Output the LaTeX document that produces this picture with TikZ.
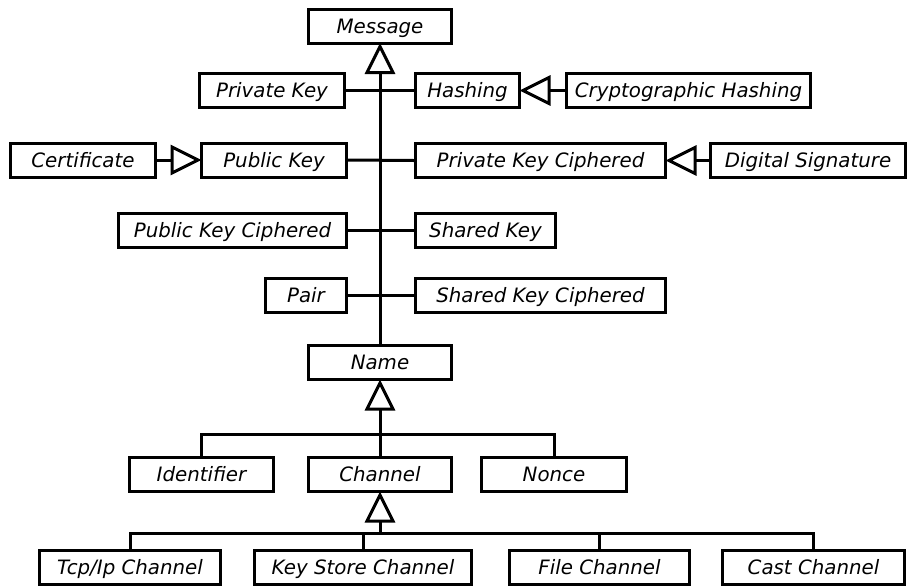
\documentclass[tikz,border=0pt]{standalone}
\usepackage{fontspec}
\setmainfont{DejaVu Sans}
\usetikzlibrary{arrows.meta}
\begin{document}
\begin{tikzpicture}[x=1pt,y=-1pt, line width=3pt,
  cls/.style={draw, rectangle, minimum height=34pt, inner sep=0pt,
    text height=14.4pt, text depth=0pt,
    font=\fontsize{19.8}{23}\selectfont\itshape},
  gen/.style={-{Triangle[open,length=31pt,width=30pt]}, shorten >=-1.5pt}]
\useasboundingbox (0,0) rectangle (912,587);
% nodes
\node[cls, minimum width=143pt] (msg) at (380,26) {Message};
\node[cls, minimum width=145pt] (pk) at (272,90.5) {Private Key};
\node[cls, minimum width=104pt] (hash) at (467.5,90.5) {Hashing};
\node[cls, minimum width=244pt] (chash) at (688.5,90.5) {Cryptographic Hashing};
\node[cls, minimum width=145pt] (cert) at (83,160) {Certificate};
\node[cls, minimum width=145pt] (pub) at (274,160) {Public Key};
\node[cls, minimum width=250pt] (pkc) at (540.5,160.5) {Private Key Ciphered};
\node[cls, minimum width=195pt] (dsig) at (808,160.5) {Digital Signature};
\node[cls, minimum width=228pt] (pubc) at (232.5,230.5) {Public Key Ciphered};
\node[cls, minimum width=140pt] (sk) at (485.5,230.5) {Shared Key};
\node[cls, minimum width=81pt] (pair) at (306,295) {Pair};
\node[cls, minimum width=250pt] (skc) at (540.5,295) {Shared Key Ciphered};
\node[cls, minimum width=143pt] (name) at (380,362.5) {Name};
\node[cls, minimum width=144pt] (id) at (201.5,474.5) {Identifier};
\node[cls, minimum width=143pt] (chan) at (380,474.5) {Channel};
\node[cls, minimum width=145pt] (nonce) at (554,474.5) {Nonce};
\node[cls, minimum width=181pt] (tcp) at (130,567) {Tcp/Ip Channel};
\node[cls, minimum width=217pt] (ks) at (363,567) {Key Store Channel};
\node[cls, minimum width=180pt] (file) at (599.5,567) {File Channel};
\node[cls, minimum width=182pt] (cast) at (813.5,567) {Cast Channel};
% main hierarchy
\draw[gen] (name.north) -- (msg.south);
\draw (pk.east) -- (hash.west);
\draw (pub.east) -- (pkc.west);
\draw (pubc.east) -- (sk.west);
\draw (pair.east) -- (skc.west);
% side generalisations
\draw[gen] (chash.west) -- (hash.east);
\draw[gen] (cert.east) -- (pub.west);
\draw[gen] (dsig.west) -- (pkc.east);
% Name subclasses
\coordinate (b1) at (380,434);
\draw[gen] (b1) -- (name.south);
\draw (id.north) |- (b1) -| (nonce.north);
\draw (chan.north) -- (b1);
% Channel subclasses
\coordinate (b2) at (380,533);
\draw[gen] (b2) -- (chan.south);
\draw (tcp.north) |- (b2) -| (cast.north);
\draw (ks.north) -- (ks.north |- b2);
\draw (file.north) -- (file.north |- b2);
\end{tikzpicture}
\end{document}
